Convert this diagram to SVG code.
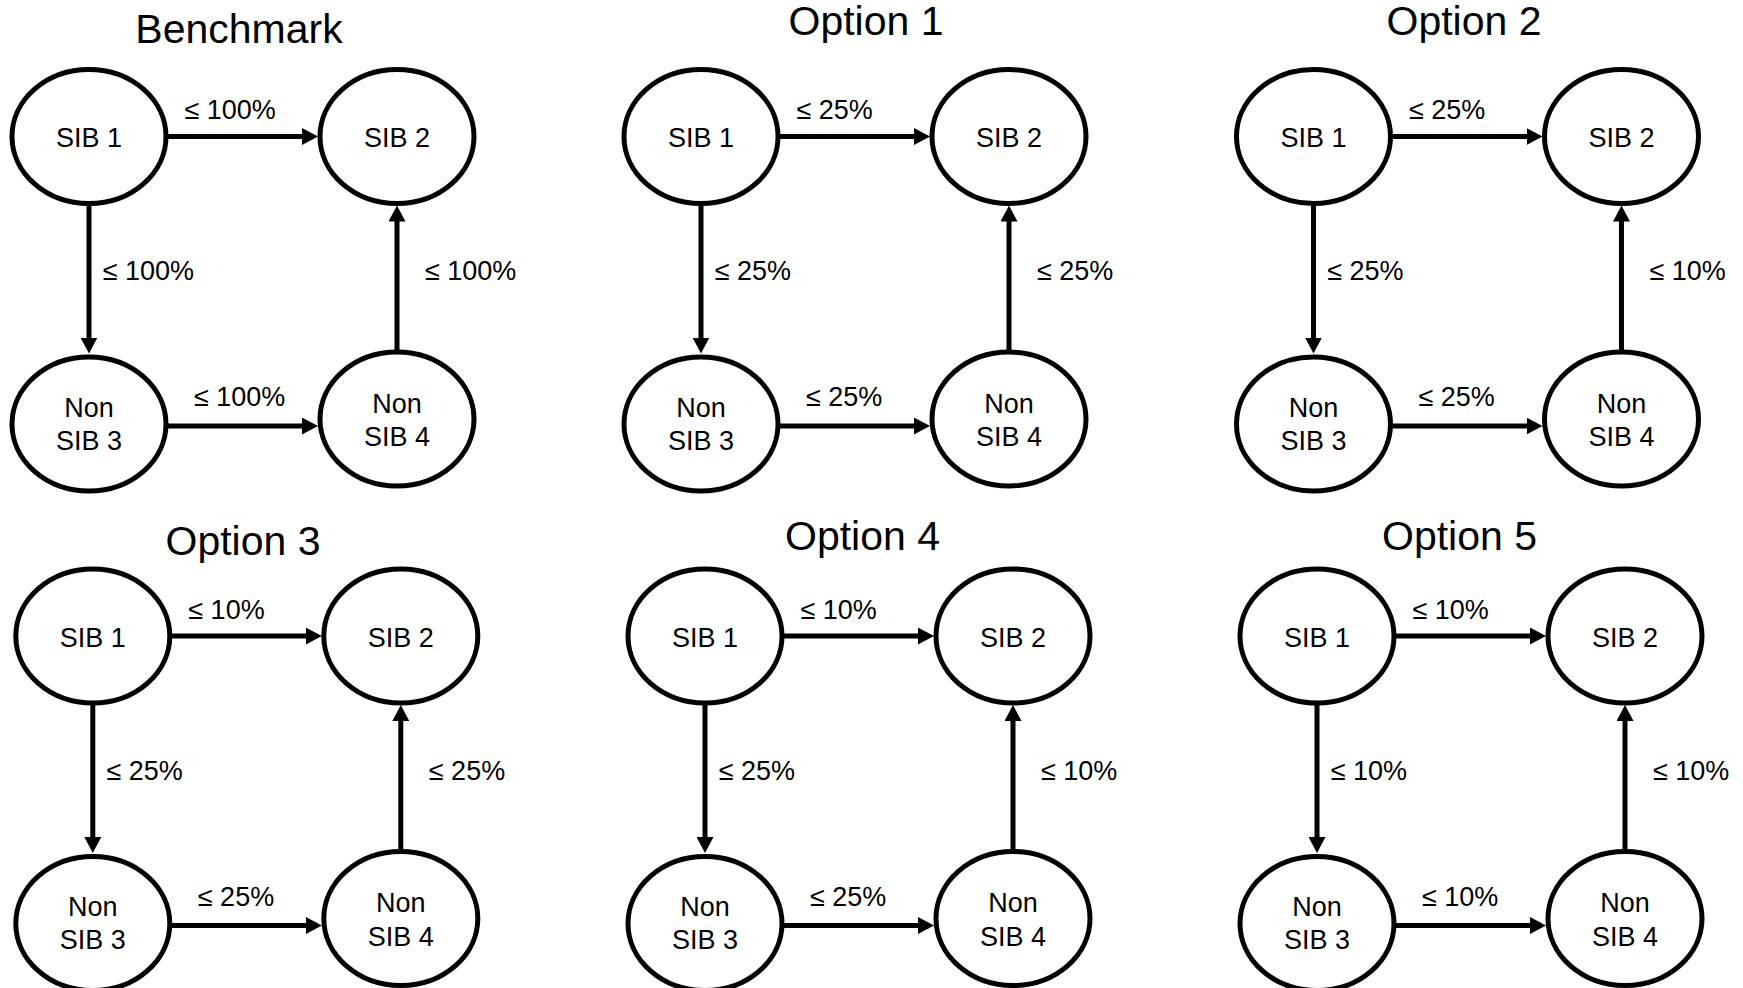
<svg xmlns="http://www.w3.org/2000/svg" width="1743" height="988" viewBox="0 0 1743 988">
<style>
.node{fill:#fff;stroke:#000;stroke-width:5}
.nt{font-family:"Liberation Sans",Arial,sans-serif;font-size:27px;fill:#000;text-anchor:middle}
.el{font-family:"Liberation Sans",Arial,sans-serif;font-size:27px;fill:#000}
.title{font-family:"Liberation Sans",Arial,sans-serif;font-size:41px;fill:#000;text-anchor:middle}
.edge{stroke:#000;stroke-width:5;fill:none;marker-end:url(#ah)}
</style>
<defs>
<marker id="ah" markerUnits="userSpaceOnUse" viewBox="0 0 16 17" markerWidth="16" markerHeight="17" refX="2" refY="8.5" orient="auto">
<path d="M0,0 L16,8.5 L0,17 Z" fill="#000"/>
</marker>
</defs>
<rect width="1743" height="988" fill="#fff"/>

<text class="title" x="239" y="42.7">Benchmark</text>
<text class="title" x="866" y="35">Option 1</text>
<text class="title" x="1464" y="35">Option 2</text>
<text class="title" x="243" y="555">Option 3</text>
<text class="title" x="862.5" y="550">Option 4</text>
<text class="title" x="1459.5" y="550">Option 5</text>

<!-- Benchmark -->
<g id="benchmark" transform="translate(89,136.5)">
<g id="b-connectors">
<line class="edge" x1="79" y1="0" x2="215" y2="0"/>
<line class="edge" x1="0" y1="69" x2="0" y2="203"/>
<line class="edge" x1="78" y1="289.5" x2="215" y2="289.5"/>
<line class="edge" x1="308" y1="213.5" x2="308" y2="83"/>
<text class="el" x="95.5" y="-17.5">≤ 100%</text>
<text class="el" x="13.7" y="143.5">≤ 100%</text>
<text class="el" x="336" y="143.5">≤ 100%</text>
<text class="el" x="105" y="269.5">≤ 100%</text>
</g>
<g id="b-sib1"><ellipse class="node" cx="0" cy="0" rx="77" ry="67"/><text class="nt" x="0" y="10.5">SIB 1</text></g>
<g id="b-sib2"><ellipse class="node" cx="308" cy="0" rx="77" ry="67"/><text class="nt" x="308" y="10.5">SIB 2</text></g>
<g id="b-nonsib3"><ellipse class="node" cx="0" cy="287.5" rx="77" ry="67"/><text class="nt" x="0" y="280">Non</text><text class="nt" x="0" y="313">SIB 3</text></g>
<g id="b-nonsib4"><ellipse class="node" cx="308" cy="282.5" rx="77" ry="67"/><text class="nt" x="308" y="276">Non</text><text class="nt" x="308" y="309.5">SIB 4</text></g>
</g>

<!-- Option 1 -->
<g id="option1" transform="translate(701,136.5)">
<g id="o1-connectors">
<line class="edge" x1="79" y1="0" x2="215" y2="0"/>
<line class="edge" x1="0" y1="69" x2="0" y2="203"/>
<line class="edge" x1="78" y1="289.5" x2="215" y2="289.5"/>
<line class="edge" x1="308" y1="213.5" x2="308" y2="83"/>
<text class="el" x="95.5" y="-17.5">≤ 25%</text>
<text class="el" x="13.7" y="143.5">≤ 25%</text>
<text class="el" x="336" y="143.5">≤ 25%</text>
<text class="el" x="105" y="269.5">≤ 25%</text>
</g>
<g id="o1-sib1"><ellipse class="node" cx="0" cy="0" rx="77" ry="67"/><text class="nt" x="0" y="10.5">SIB 1</text></g>
<g id="o1-sib2"><ellipse class="node" cx="308" cy="0" rx="77" ry="67"/><text class="nt" x="308" y="10.5">SIB 2</text></g>
<g id="o1-nonsib3"><ellipse class="node" cx="0" cy="287.5" rx="77" ry="67"/><text class="nt" x="0" y="280">Non</text><text class="nt" x="0" y="313">SIB 3</text></g>
<g id="o1-nonsib4"><ellipse class="node" cx="308" cy="282.5" rx="77" ry="67"/><text class="nt" x="308" y="276">Non</text><text class="nt" x="308" y="309.5">SIB 4</text></g>
</g>

<!-- Option 2 -->
<g id="option2" transform="translate(1313.5,136.5)">
<g id="o2-connectors">
<line class="edge" x1="79" y1="0" x2="215" y2="0"/>
<line class="edge" x1="0" y1="69" x2="0" y2="203"/>
<line class="edge" x1="78" y1="289.5" x2="215" y2="289.5"/>
<line class="edge" x1="308" y1="213.5" x2="308" y2="83"/>
<text class="el" x="95.5" y="-17.5">≤ 25%</text>
<text class="el" x="13.7" y="143.5">≤ 25%</text>
<text class="el" x="336" y="143.5">≤ 10%</text>
<text class="el" x="105" y="269.5">≤ 25%</text>
</g>
<g id="o2-sib1"><ellipse class="node" cx="0" cy="0" rx="77" ry="67"/><text class="nt" x="0" y="10.5">SIB 1</text></g>
<g id="o2-sib2"><ellipse class="node" cx="308" cy="0" rx="77" ry="67"/><text class="nt" x="308" y="10.5">SIB 2</text></g>
<g id="o2-nonsib3"><ellipse class="node" cx="0" cy="287.5" rx="77" ry="67"/><text class="nt" x="0" y="280">Non</text><text class="nt" x="0" y="313">SIB 3</text></g>
<g id="o2-nonsib4"><ellipse class="node" cx="308" cy="282.5" rx="77" ry="67"/><text class="nt" x="308" y="276">Non</text><text class="nt" x="308" y="309.5">SIB 4</text></g>
</g>

<!-- Option 3 -->
<g id="option3" transform="translate(92.8,636)">
<g id="o3-connectors">
<line class="edge" x1="79" y1="0" x2="215" y2="0"/>
<line class="edge" x1="0" y1="69" x2="0" y2="203"/>
<line class="edge" x1="78" y1="289.5" x2="215" y2="289.5"/>
<line class="edge" x1="308" y1="213.5" x2="308" y2="83"/>
<text class="el" x="95.5" y="-17.5">≤ 10%</text>
<text class="el" x="13.7" y="143.5">≤ 25%</text>
<text class="el" x="336" y="143.5">≤ 25%</text>
<text class="el" x="105" y="269.5">≤ 25%</text>
</g>
<g id="o3-sib1"><ellipse class="node" cx="0" cy="0" rx="77" ry="67"/><text class="nt" x="0" y="10.5">SIB 1</text></g>
<g id="o3-sib2"><ellipse class="node" cx="308" cy="0" rx="77" ry="67"/><text class="nt" x="308" y="10.5">SIB 2</text></g>
<g id="o3-nonsib3"><ellipse class="node" cx="0" cy="287.5" rx="77" ry="67"/><text class="nt" x="0" y="280">Non</text><text class="nt" x="0" y="313">SIB 3</text></g>
<g id="o3-nonsib4"><ellipse class="node" cx="308" cy="282.5" rx="77" ry="67"/><text class="nt" x="308" y="276">Non</text><text class="nt" x="308" y="309.5">SIB 4</text></g>
</g>

<!-- Option 4 -->
<g id="option4" transform="translate(705,636)">
<g id="o4-connectors">
<line class="edge" x1="79" y1="0" x2="215" y2="0"/>
<line class="edge" x1="0" y1="69" x2="0" y2="203"/>
<line class="edge" x1="78" y1="289.5" x2="215" y2="289.5"/>
<line class="edge" x1="308" y1="213.5" x2="308" y2="83"/>
<text class="el" x="95.5" y="-17.5">≤ 10%</text>
<text class="el" x="13.7" y="143.5">≤ 25%</text>
<text class="el" x="336" y="143.5">≤ 10%</text>
<text class="el" x="105" y="269.5">≤ 25%</text>
</g>
<g id="o4-sib1"><ellipse class="node" cx="0" cy="0" rx="77" ry="67"/><text class="nt" x="0" y="10.5">SIB 1</text></g>
<g id="o4-sib2"><ellipse class="node" cx="308" cy="0" rx="77" ry="67"/><text class="nt" x="308" y="10.5">SIB 2</text></g>
<g id="o4-nonsib3"><ellipse class="node" cx="0" cy="287.5" rx="77" ry="67"/><text class="nt" x="0" y="280">Non</text><text class="nt" x="0" y="313">SIB 3</text></g>
<g id="o4-nonsib4"><ellipse class="node" cx="308" cy="282.5" rx="77" ry="67"/><text class="nt" x="308" y="276">Non</text><text class="nt" x="308" y="309.5">SIB 4</text></g>
</g>

<!-- Option 5 -->
<g id="option5" transform="translate(1317,636)">
<g id="o5-connectors">
<line class="edge" x1="79" y1="0" x2="215" y2="0"/>
<line class="edge" x1="0" y1="69" x2="0" y2="203"/>
<line class="edge" x1="78" y1="289.5" x2="215" y2="289.5"/>
<line class="edge" x1="308" y1="213.5" x2="308" y2="83"/>
<text class="el" x="95.5" y="-17.5">≤ 10%</text>
<text class="el" x="13.7" y="143.5">≤ 10%</text>
<text class="el" x="336" y="143.5">≤ 10%</text>
<text class="el" x="105" y="269.5">≤ 10%</text>
</g>
<g id="o5-sib1"><ellipse class="node" cx="0" cy="0" rx="77" ry="67"/><text class="nt" x="0" y="10.5">SIB 1</text></g>
<g id="o5-sib2"><ellipse class="node" cx="308" cy="0" rx="77" ry="67"/><text class="nt" x="308" y="10.5">SIB 2</text></g>
<g id="o5-nonsib3"><ellipse class="node" cx="0" cy="287.5" rx="77" ry="67"/><text class="nt" x="0" y="280">Non</text><text class="nt" x="0" y="313">SIB 3</text></g>
<g id="o5-nonsib4"><ellipse class="node" cx="308" cy="282.5" rx="77" ry="67"/><text class="nt" x="308" y="276">Non</text><text class="nt" x="308" y="309.5">SIB 4</text></g>
</g>
</svg>
